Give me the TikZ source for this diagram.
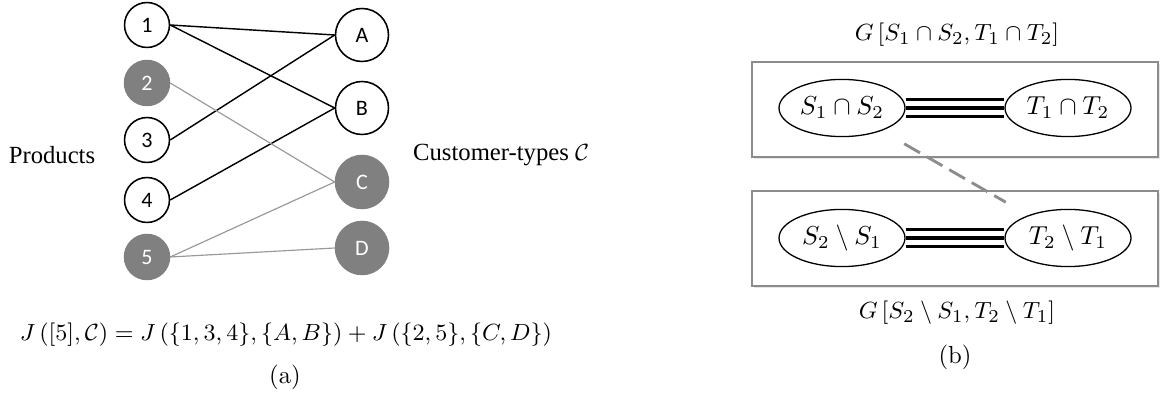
\documentclass[tikz,border=0pt]{standalone}
\usepackage{fontspec}
\newfontfamily\pptfont{Carlito}
\newfontfamily\timesfont{Liberation Serif}
\usetikzlibrary{shapes.geometric,shadows}
\definecolor{nodegray}{gray}{0.5}
\definecolor{edgegray}{gray}{0.6}
\definecolor{boxgray}{gray}{0.55}
\begin{document}
\begin{tikzpicture}
    [
    x=0.385pt, y=-0.385pt,
    font=\fontsize{9.5}{11}\selectfont,
    prod/.style={circle,draw,line width=0.6pt,fill=white,inner sep=0pt,minimum size=17.3pt,font=\pptfont\fontsize{8.5}{10}\selectfont},
    cust/.style={prod,minimum size=20.4pt},
    grey/.style={fill=nodegray,draw=nodegray,text=white},
    strong/.style={line width=0.55pt},
    weak/.style={edgegray,line width=0.45pt},
    panel/.style={rectangle,draw=boxgray,fill=white,line width=0.6pt,minimum width=156.3pt,minimum height=36.6pt,drop shadow={opacity=0.2,shadow xshift=0.8pt,shadow yshift=-0.8pt}},
    set/.style={ellipse,draw,line width=0.5pt,fill=white,inner sep=0pt,minimum width=48.5pt,minimum height=22pt,font=\fontsize{10}{12}\selectfont},
    ]
    \useasboundingbox (0,0) rectangle (1166,397);
    % left part: products and customer types
    \node (p1) at (147,25) [prod] {1};
    \node (p2) at (147,83) [prod,grey] {2};
    \node (p3) at (147,140) [prod] {3};
    \node (p4) at (147,200) [prod] {4};
    \node (p5) at (147,257) [prod,grey] {5};
    \node (cA) at (362,35) [cust] {A};
    \node (cB) at (362,108) [cust] {B};
    \node (cC) at (362,182) [cust,grey] {C};
    \node (cD) at (362,248) [cust,grey] {D};
    \draw [strong] (p1.east) to (cA.west);
    \draw [strong] (p1.east) to (cB.west);
    \draw [strong] (p3.east) to (cA.west);
    \draw [strong] (p4.east) to (cB.west);
    \draw [weak] (p2.east) to (cC.west);
    \draw [weak] (p5.east) to (cC.west);
    \draw [weak] (p5.east) to (cD.west);
    \node (prodlabel) at (52,155) [font=\timesfont\fontsize{9.5}{11}\selectfont] {Products};
    \node (custlabel) at (404,155) [anchor=west,font=\timesfont\fontsize{9.5}{11}\selectfont] {Customer-types $\mathcal{C}$};
    \node (formula) at (286,335) [font=\fontsize{9.25}{11}\selectfont] {$J\left([5],\mathcal{C}\right)=J\left(\{1,3,4\},\{A,B\}\right)+J\left(\{2,5\},\{C,D\}\right)$};
    \node (capa) at (285,377) {(a)};
    % right part: the two induced subgraphs
    \node (top) at (955,109.5) [panel] {};
    \node (bottom) at (955,238.5) [panel] {};
    \node (s12) at (842,108) [set] {$S_1\cap S_2$};
    \node (t12) at (1068,108) [set] {$T_1\cap T_2$};
    \node (s21) at (842,238) [set] {$S_2\setminus S_1$};
    \node (t21) at (1068,238) [set] {$T_2\setminus T_1$};
    \foreach \dy in {-3.3pt,0pt,3.3pt}
    {
      \draw [line width=1.3pt] ([yshift=\dy]s12.east) to ([yshift=\dy]t12.west);
      \draw [line width=1.3pt] ([yshift=\dy]s21.east) to ([yshift=\dy]t21.west);
    }
    \draw [boxgray,line width=1.1pt,dash pattern=on 7pt off 3pt,shorten <=10pt,shorten >=10pt] (s12) to (t21);
    \node (toplabel) at (957,35) {$G\left[S_1\cap S_2,T_1\cap T_2\right]$};
    \node (bottomlabel) at (957,313) {$G\left[S_2\setminus S_1,T_2\setminus T_1\right]$};
    \node (capb) at (955,357) {(b)};
  \end{tikzpicture}
\end{document}
